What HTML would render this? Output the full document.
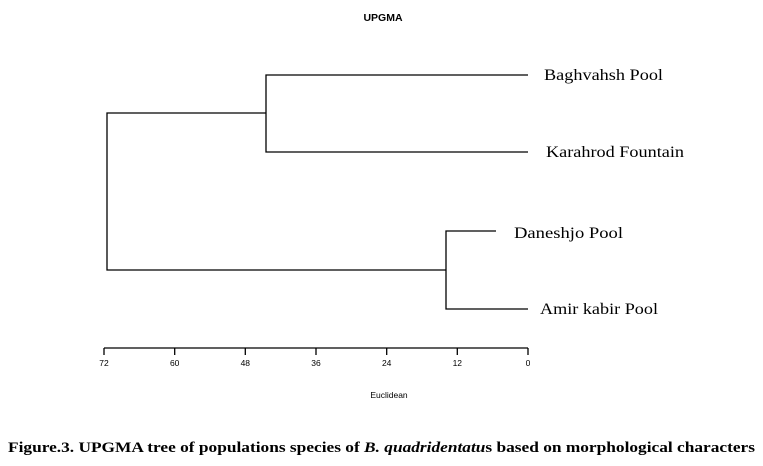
<!DOCTYPE html>
<html><head><style>
body{margin:0;background:#fff;width:763px;height:461px;overflow:hidden}
</style></head><body>
<svg width="763" height="461" xmlns="http://www.w3.org/2000/svg">
<g stroke="#000" stroke-width="1.3" fill="none">
<path d="M528 75H266V152H528"/>
<path d="M496 231H446V309H528"/>
<path d="M266 113H107V270H446"/>
<path d="M104 348H528"/>
<path d="M104 348v7M174.7 348v7M245.3 348v7M316 348v7M386.7 348v7M457.3 348v7M528 348v7"/>
</g>
<g font-family="Liberation Sans, sans-serif" font-size="8.5" text-anchor="middle" fill="#000">
<text x="104" y="366">72</text><text x="174.7" y="366">60</text><text x="245.3" y="366">48</text>
<text x="316" y="366">36</text><text x="386.7" y="366">24</text><text x="457.3" y="366">12</text><text x="528" y="366">0</text>
<text x="389" y="398">Euclidean</text>
<text x="383" y="21" font-weight="bold" font-size="10.5">UPGMA</text>
</g>
<g font-family="Liberation Serif, serif" font-size="16" fill="#000">
<text x="544" y="80" textLength="119" lengthAdjust="spacingAndGlyphs">Baghvahsh Pool</text>
<text x="546" y="157" textLength="138" lengthAdjust="spacingAndGlyphs">Karahrod Fountain</text>
<text x="514" y="238" textLength="109" lengthAdjust="spacingAndGlyphs">Daneshjo Pool</text>
<text x="540" y="314" textLength="118" lengthAdjust="spacingAndGlyphs">Amir kabir Pool</text>
</g>
<text x="8" y="452" font-family="Liberation Serif, serif" font-size="15" font-weight="bold" fill="#000" textLength="747" lengthAdjust="spacingAndGlyphs">Figure.3. UPGMA tree of populations species of <tspan font-style="italic">B. quadridentatu</tspan>s based on morphological characters</text>
</svg>
</body></html>
